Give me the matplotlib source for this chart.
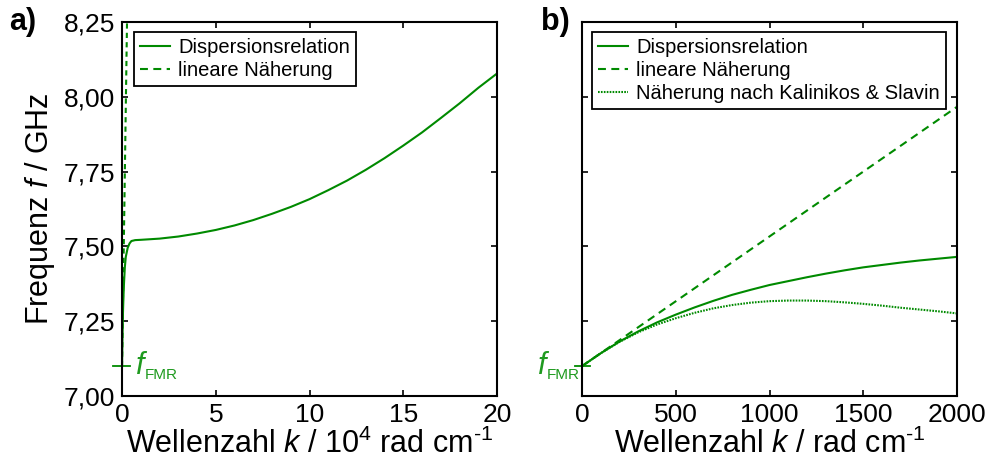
import matplotlib.pyplot as plt
from matplotlib.lines import Line2D
from matplotlib.ticker import FuncFormatter

plt.rcParams['font.family'] = ['Liberation Sans', 'DejaVu Sans']
plt.rcParams['mathtext.fontset'] = 'custom'
plt.rcParams['mathtext.it'] = 'Liberation Sans:italic'
plt.rcParams['mathtext.rm'] = 'Liberation Sans'

GREEN = "#008a00"
LABEL_GREEN = "#1f9a1f"

f_fmr = 7.10

# panel a: k in 10^4 rad/cm
k_a = [0, 0.025, 0.05, 0.075, 0.1, 0.15, 0.2, 0.3, 0.4, 0.5, 0.7, 1.0, 2.0, 3.0, 4.0,
       5.0, 6.0, 7.0, 8.0, 9.0, 10.0, 11.0, 12.0, 13.0, 14.0, 15.0, 16.0, 17.0, 18.0,
       19.0, 20.0]
f_a = [7.10, 7.20, 7.28, 7.33, 7.371, 7.431, 7.465, 7.495, 7.510, 7.518, 7.521, 7.522,
       7.526, 7.533, 7.543, 7.555, 7.570, 7.588, 7.609, 7.632, 7.658, 7.688, 7.720,
       7.756, 7.795, 7.837, 7.881, 7.929, 7.978, 8.030, 8.078]

# panel b: k in rad/cm
k_b = [0, 100, 200, 300, 400, 500, 600, 700, 800, 900, 1000, 1100, 1200, 1300, 1400,
       1500, 1600, 1700, 1800, 1900, 2000]
f_disp_b = [7.100, 7.143, 7.182, 7.216, 7.246, 7.272, 7.296, 7.318, 7.338, 7.355, 7.371,
            7.384, 7.397, 7.409, 7.420, 7.430, 7.438, 7.446, 7.453, 7.459, 7.465]
f_ks_b = [7.100, 7.143, 7.181, 7.213, 7.239, 7.260, 7.278, 7.293, 7.304, 7.312, 7.317,
          7.319, 7.319, 7.317, 7.313, 7.308, 7.302, 7.295, 7.289, 7.283, 7.276]

# linear approximation (rad/cm)
k_lin = [0, 3000]
f_lin = [7.10, 8.40]

ylim = (7.0, 8.25)
yticks = [7.0, 7.25, 7.5, 7.75, 8.0, 8.25]

fig = plt.figure(figsize=(9.89, 4.66), dpi=100)
ax_a = fig.add_axes([0.1234, 0.1502, 0.3792, 0.8026])
ax_b = fig.add_axes([0.5885, 0.1502, 0.3792, 0.8026])

comma = FuncFormatter(lambda v, p: f"{v:.2f}".replace(".", ","))

for ax in (ax_a, ax_b):
    ax.set_ylim(*ylim)
    ax.set_yticks(yticks)
    ax.tick_params(direction="in", length=4, width=1.2, top=True, right=True,
                   labelsize=19, pad=5)
    for s in ax.spines.values():
        s.set_linewidth(1.5)

solid_h = Line2D([], [], color=GREEN, lw=1.5)
dash_h = Line2D([], [], color=GREEN, lw=1.5, ls="--", dashes=(3.8, 2.6))
dot_h = Line2D([], [], color=GREEN, lw=1.5, ls=":", dashes=(0.8, 0.6))


def add_legend(ax, x0, handles, labels):
    leg = ax.legend(handles, labels, loc="upper left", bbox_to_anchor=(x0, 0.974),
                    borderaxespad=0, fontsize=14.5, frameon=True, fancybox=False,
                    edgecolor="black", framealpha=1, handlelength=1.5, borderpad=0.3,
                    labelspacing=0.2, handletextpad=0.4)
    leg.get_frame().set_linewidth(1.3)


def mark_fmr(ax, x_tick, f_dx):
    # short tick across the y axis plus the f_FMR label (offsets in points)
    ax.plot(x_tick, [f_fmr, f_fmr], color=GREEN, lw=1.3, clip_on=False)
    ax.annotate("f", xy=(0, f_fmr), xytext=(f_dx, 0), textcoords="offset points",
                color=LABEL_GREEN, fontsize=22, style="italic", va="center",
                ha="left", annotation_clip=False)
    ax.annotate("FMR", xy=(0, f_fmr), xytext=(f_dx + 6.6, -6.5), textcoords="offset points",
                color=LABEL_GREEN, fontsize=11, va="center", ha="left",
                annotation_clip=False)


# panel a
ax_a.plot(k_a, f_a, color=GREEN, lw=1.5)
ax_a.plot([k / 1e4 for k in k_lin], f_lin, color=GREEN, lw=1.5, ls="--", dashes=(2.5, 2))
ax_a.set_xlim(0, 20)
ax_a.set_xticks([0, 5, 10, 15, 20])
ax_a.yaxis.set_major_formatter(comma)
ax_a.set_xlabel("Wellenzahl $k$ / 10$^{\\mathregular{4}}$ rad cm$^{\\mathregular{\u20101}}$",
                fontsize=22, labelpad=1)
ax_a.set_ylabel("Frequenz $f$ / GHz", fontsize=22, labelpad=5)
mark_fmr(ax_a, [-0.48, 0.43], 10.0)
add_legend(ax_a, 0.032, [solid_h, dash_h], ["Dispersionsrelation", "lineare Näherung"])
fig.text(0.009, 0.952, "a)", fontsize=22, fontweight="bold", va="center", ha="left")

# panel b
ax_b.plot(k_b, f_disp_b, color=GREEN, lw=1.5)
ax_b.plot(k_lin, f_lin, color=GREEN, lw=1.5, ls="--", dashes=(3.8, 2.6))
ax_b.plot(k_b, f_ks_b, color=GREEN, lw=1.5, ls=":", dashes=(0.8, 0.6))
ax_b.set_xlim(0, 2000)
ax_b.set_xticks([0, 500, 1000, 1500, 2000])
ax_b.set_yticklabels([])
ax_b.set_xlabel("Wellenzahl $k$ / rad cm$^{\\mathregular{\u20101}}$", fontsize=22, labelpad=1)
mark_fmr(ax_b, [-37, 43], -32)
add_legend(ax_b, 0.027, [solid_h, dash_h, dot_h],
           ["Dispersionsrelation", "lineare Näherung", "Näherung nach Kalinikos & Slavin"])
fig.text(0.547, 0.952, "b)", fontsize=22, fontweight="bold", va="center", ha="left")

fig.savefig("out.png", dpi=100)
